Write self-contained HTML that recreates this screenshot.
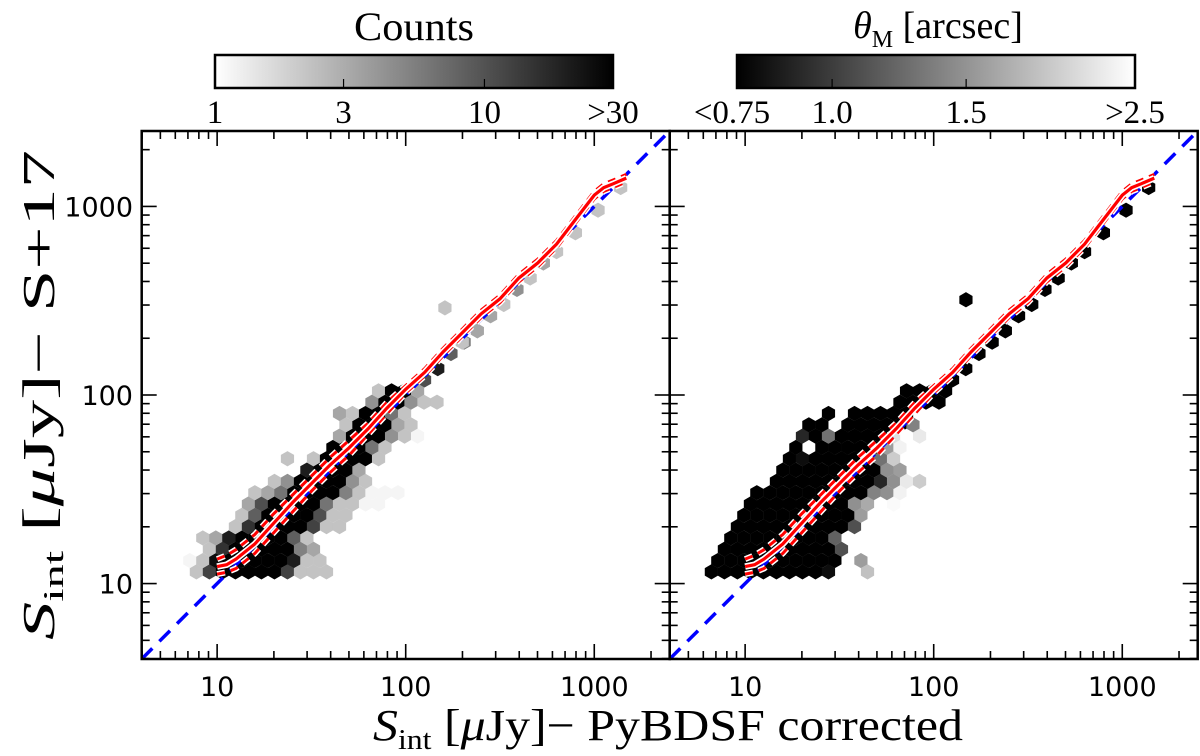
<!DOCTYPE html>
<html><head><meta charset="utf-8"><style>
html,body{margin:0;padding:0;background:#fff;}
svg{display:block;}
text{font-family:"DejaVu Sans","Liberation Sans",sans-serif;}
.serif{font-family:"Liberation Serif","DejaVu Serif",serif;}
</style></head><body>
<svg id="fig" width="1200" height="756" viewBox="0 0 1200 756" xmlns="http://www.w3.org/2000/svg">
<defs>
<linearGradient id="gCounts" x1="0" x2="1" y1="0" y2="0"><stop offset="0" stop-color="#fff"/><stop offset="1" stop-color="#000"/></linearGradient>
<linearGradient id="gTheta" x1="0" x2="1" y1="0" y2="0"><stop offset="0" stop-color="#000"/><stop offset="1" stop-color="#fff"/></linearGradient>
</defs>
<g id="cb">
<text class="serif" x="414" y="40" font-size="40" text-anchor="middle" textLength="120" lengthAdjust="spacingAndGlyphs">Counts</text>
<rect x="215" y="55" width="398" height="33" fill="url(#gCounts)" stroke="#000" stroke-width="2.5"/>
<text class="serif" x="938" y="38" font-size="38" text-anchor="middle"><tspan font-style="italic">θ</tspan><tspan font-size="24" dy="9">M</tspan><tspan dy="-9"> [arcsec]</tspan></text>
<rect x="737" y="55" width="398" height="33" fill="url(#gTheta)" stroke="#000" stroke-width="2.5"/>
</g>
<g id="plots"></g>
<text class="serif" x="0" y="0" font-size="46" text-anchor="middle" textLength="490" lengthAdjust="spacingAndGlyphs" transform="translate(54,395) rotate(-90)"><tspan font-style="italic">S</tspan><tspan font-size="29" dy="9">int</tspan><tspan dy="-9"> [</tspan><tspan font-style="italic">μ</tspan><tspan>Jy]− S+17</tspan></text>
<text class="serif" x="668" y="740" font-size="44" text-anchor="middle" textLength="590" lengthAdjust="spacingAndGlyphs"><tspan font-style="italic">S</tspan><tspan font-size="28" dy="9">int</tspan><tspan dy="-9"> [</tspan><tspan font-style="italic">μ</tspan><tspan>Jy]− PyBDSF corrected</tspan></text>
</svg>
<script>
// ---- data (log10 uJy) ----
const rowLogY = [1.062,1.122,1.182,1.242,1.302,1.362,1.422,1.482,1.542,1.602,1.662,1.722,1.782,1.842,1.902,1.962,2.022];
const leftRowStart = [0.89,0.855,0.89,0.924,1.028,1.131,1.166,1.2,1.304,1.476,1.373,1.614,1.649,1.683,1.649,1.821,1.856];
const leftRowCounts = [
 [2,12,30,30,30,30,30,12,2,2,2],
 [1,2,25,30,30,30,30,30,20,2,2],
 [0,2,15,30,30,30,30,30,5,3],
 [2,3,20,30,30,30,30,8,2],
 [0,2,15,30,30,30,30,12,2,2],
 [2,8,30,30,30,30,10,2,2],
 [3,10,30,30,30,30,6,2,2,1,1],
 [2,3,6,30,30,30,30,5,2,1,1,1],
 [2,4,30,30,30,30,4,2],
 [20,30,30,30,3],
 [2,0,2,30,30,30,30,2],
 [30,30,30,6,2],
 [3,30,30,30,4,2,1],
 [2,30,30,30,3,2],
 [3,2,30,30,6,2],
 [4,30,30,4,2,2],
 [2,30,30,3]
];
const leftSparseX = [2.10,2.17,2.24,2.31,2.38,2.45,2.52,2.59,2.66,2.73,2.80,2.90,3.02,3.14,2.208,2.30];
const leftSparseY = [2.08,2.14,2.22,2.28,2.34,2.42,2.48,2.56,2.62,2.70,2.76,2.86,2.98,3.10,2.462,2.28];
const leftSparseC = [10,20,8,5,3,3,2,4,2,3,2,2,2,2,2,2];
const rightRowStart = [0.821,0.855,0.89,0.924,0.959,0.993,1.028,1.062,1.166,1.2,1.235,1.269,1.304,1.338,1.442,1.821,1.856];
const rightRowTheta = [
 [.7,.7,.7,.7,.7,.7,.7,.7,.7,.8,0,0,1.9],
 [.7,.7,.7,.7,.7,.7,.7,.7,.7,.7,0,1.6],
 [.7,.7,.7,.7,.7,.7,.7,.7,.7,1.1],
 [.7,.7,.7,.7,.7,.7,.7,.7,1.2],
 [.7,.7,.7,.7,.7,.7,.7,.7,.7,1.1],
 [.7,.7,.7,.7,.7,.7,.7,.7,.7,1.6],
 [.7,.7,.7,.7,.7,.7,.7,.7,1.5,1.7,0,2.5],
 [.7,.7,.7,.7,.7,.7,.7,.7,.7,1.4,1.5,2.4],
 [.7,.7,.7,.7,.7,.7,.7,.7,.9,1.5,2.3,2.0],
 [.7,.7,.7,.7,.7,.7,.7,.7,1.5,1.6],
 [.7,.8,.7,.7,.7,.7,.7,1.3,2.0],
 [.7,0,.7,.7,.7,.7,.7,1.6,2.4],
 [.9,.7,1.3,.7,.7,.7,.7,2.2,0,2.3],
 [.7,.7,0,.7,.7,.7,.7,.7,1.4],
 [.7,0,.7,.7,.7,.7,.7],
 [.7,.7,.7,.7],
 [.7,.7,.7,.7]
];
const rightSparseX = [2.10,2.17,2.24,2.31,2.38,2.45,2.52,2.59,2.66,2.73,2.80,2.90,3.02,3.14,2.171];
const rightSparseY = [2.08,2.14,2.22,2.28,2.34,2.42,2.48,2.56,2.62,2.70,2.76,2.86,2.98,3.10,2.505];
const rightSparseT = [.7,.7,.7,.7,.7,.7,.7,.7,.7,.7,.7,.7,.7,.7,.7];
const medLogX = [1.0,1.05,1.1,1.2,1.3,1.4,1.5,1.6,1.7,1.8,1.9,2.0,2.1,2.2,2.3,2.4,2.5,2.6,2.7,2.8,2.9,3.0,3.05,3.1,3.17];
const medLogY = [1.09,1.10,1.13,1.21,1.32,1.43,1.53,1.63,1.72,1.82,1.93,2.03,2.12,2.23,2.33,2.43,2.51,2.62,2.70,2.80,2.93,3.06,3.10,3.12,3.15];
const hiLogY = [1.13,1.15,1.18,1.26,1.37,1.47,1.57,1.67,1.76,1.85,1.96,2.05,2.14,2.25,2.35,2.45,2.53,2.64,2.72,2.82,2.95,3.08,3.12,3.14,3.17];
const loLogY = [1.05,1.06,1.08,1.16,1.27,1.38,1.49,1.59,1.68,1.79,1.90,2.01,2.10,2.21,2.31,2.41,2.49,2.60,2.68,2.78,2.91,3.04,3.08,3.10,3.13];
const majorTicks = [10,100,1000];
const tickLabels = ["10","100","1000"];
const cbCountTicks = [1,3,10,30];
const cbCountLabels = ["1","3","10",">30"];
const cbThetaTicks = [0.75,1.0,1.5,2.5];
const cbThetaLabels = ["<0.75","1.0","1.5",">2.5"];

// ---- layout ----
const NS = "http://www.w3.org/2000/svg";
const plots = document.getElementById('plots');
const TOP = 131, BOT = 659, LMIN = 0.6, LMAX = 3.4;
const panels = [{x0:141.7, x1:669.7, name:'left'}, {x0:669.7, x1:1197.7, name:'right'}];
function mk(tag, attrs, parent){ const e = document.createElementNS(NS, tag); for (const k in attrs) e.setAttribute(k, attrs[k]); (parent||plots).appendChild(e); return e; }
function sx(p, lx){ return p.x0 + (lx - LMIN) / (LMAX - LMIN) * (p.x1 - p.x0); }
function sy(ly){ return BOT - (ly - LMIN) / (LMAX - LMIN) * (BOT - TOP); }
const HW = 6.6, HR = 7.6;
function hexPath(cx, cy){
  return `M${cx},${cy-HR} L${cx+HW},${cy-HR/2} L${cx+HW},${cy+HR/2} L${cx},${cy+HR} L${cx-HW},${cy+HR/2} L${cx-HW},${cy-HR/2} Z`;
}
function countGray(c){ let t = Math.log(Math.max(c,1))/Math.log(30); t=Math.min(1,Math.max(0,t)); const v=Math.round(245*(1-t)); return `rgb(${v},${v},${v})`; }
function thetaGray(th){ let t = Math.log(th/0.75)/Math.log(2.5/0.75); t=Math.min(1,Math.max(0,t)); const v=Math.round(250*t); return `rgb(${v},${v},${v})`; }
const STEP = 0.069;

panels.forEach((p, pi) => {
  const g = mk('g', {});
  
  
  const clipId = 'clip' + pi;
  const cp = mk('clipPath', {id: clipId}, g); mk('rect', {x:p.x0, y:TOP, width:p.x1-p.x0, height:BOT-TOP}, cp);
  const hg = mk('g', {'clip-path': `url(#${clipId})`}, g);
  
  
  const starts = pi===0 ? leftRowStart : rightRowStart;
  const vals = pi===0 ? leftRowCounts : rightRowTheta;
  const colf = pi===0 ? countGray : thetaGray;
  rowLogY.forEach((ly, j) => {
    vals[j].forEach((v, k) => {
      if (!v) return;
      const h = mk('path', {d: hexPath(sx(p, starts[j] + k*STEP), sy(ly)), fill: colf(v)}, hg);
      
      
    });
  });
  const spX = pi===0 ? leftSparseX : rightSparseX, spY = pi===0 ? leftSparseY : rightSparseY, spV = pi===0 ? leftSparseC : rightSparseT;
  spX.forEach((lx, i) => {
    const h = mk('path', {d: hexPath(sx(p, lx), sy(spY[i])), fill: colf(spV[i])}, hg);
    
    
  });
  const one = mk('line', {x1:sx(p,LMIN), y1:sy(LMIN), x2:sx(p,LMAX), y2:sy(LMAX), stroke:'#0000ff', 'stroke-width':3.5, 'stroke-dasharray':'15,10'}, hg);
  
  
  [loLogY, hiLogY].forEach((arr, q) => {
    const d = medLogX.map((lx,i)=>`${i?'L':'M'}${sx(p,lx).toFixed(1)},${sy(arr[i]).toFixed(1)}`).join(' ');
    mk('path', {d, fill:'none', stroke:'#fff', 'stroke-width':6, 'stroke-dasharray':'8,6'}, hg);
    const l = mk('path', {d, fill:'none', stroke:'#ff0000', 'stroke-width':3, 'stroke-dasharray':'8,6'}, hg);
    
    
  });
  const dm = medLogX.map((lx,i)=>`${i?'L':'M'}${sx(p,lx).toFixed(1)},${sy(medLogY[i]).toFixed(1)}`).join(' ');
  mk('path', {d:dm, fill:'none', stroke:'#fff', 'stroke-width':6.5}, hg);
  const med = mk('path', {d:dm, fill:'none', stroke:'#ff0000', 'stroke-width':3.2}, hg);
  
  
  const tg = mk('g', {stroke:'#000', 'stroke-width':1.6}, g);
  
  
  for (let dec = 0; dec <= 3; dec++) {
    for (let m = 1; m <= 9; m++) {
      const lv = dec + Math.log10(m);
      if (lv < LMIN || lv > LMAX) continue;
      const len = m === 1 ? 15 : 8;
      const X = sx(p, lv), Y = sy(lv);
      mk('line', {x1:X, y1:BOT, x2:X, y2:BOT-len}, tg);
      mk('line', {x1:X, y1:TOP, x2:X, y2:TOP+len}, tg);
      mk('line', {x1:p.x0, y1:Y, x2:p.x0+len, y2:Y}, tg);
      mk('line', {x1:p.x1, y1:Y, x2:p.x1-len, y2:Y}, tg);
    }
  }
  const fr = mk('rect', {x:p.x0, y:TOP, width:p.x1-p.x0, height:BOT-TOP, fill:'none', stroke:'#000', 'stroke-width':2.5}, g);
  
  
  majorTicks.forEach((v, i) => {
    const t = mk('text', {x: sx(p, Math.log10(v)), y: 696, 'font-size':27, 'text-anchor':'middle'}, g);
    t.textContent = tickLabels[i];
    
    
    if (pi === 0) {
      const ty = mk('text', {x: 133, y: sy(Math.log10(v)) + 10, 'font-size':27, 'text-anchor':'end'}, g);
      ty.textContent = tickLabels[i];
      
      
    }
  });
});
const cbG = document.getElementById('cb');
cbCountTicks.forEach((v, i) => {
  const X = 215 + Math.log(v)/Math.log(30)*398;
  if (i>0 && i<3) mk('line', {x1:X, y1:88, x2:X, y2:79, stroke:'#000', 'stroke-width':1.2}, cbG);
  const t = mk('text', {x:X, y:123, 'font-size':33, 'text-anchor':'middle', class:'serif'}, cbG);
  t.textContent = cbCountLabels[i];
  
  
});
cbThetaTicks.forEach((v, i) => {
  const X = 737 + Math.log(v/0.75)/Math.log(2.5/0.75)*398;
  if (i>0 && i<3) mk('line', {x1:X, y1:88, x2:X, y2:79, stroke:'#000', 'stroke-width':1.2}, cbG);
  const t = mk('text', {x:X + (i===0?-5:0), y:123, 'font-size':33, 'text-anchor':'middle', class:'serif'}, cbG);
  t.textContent = cbThetaLabels[i];
  
  
});
</script>
</body></html>
